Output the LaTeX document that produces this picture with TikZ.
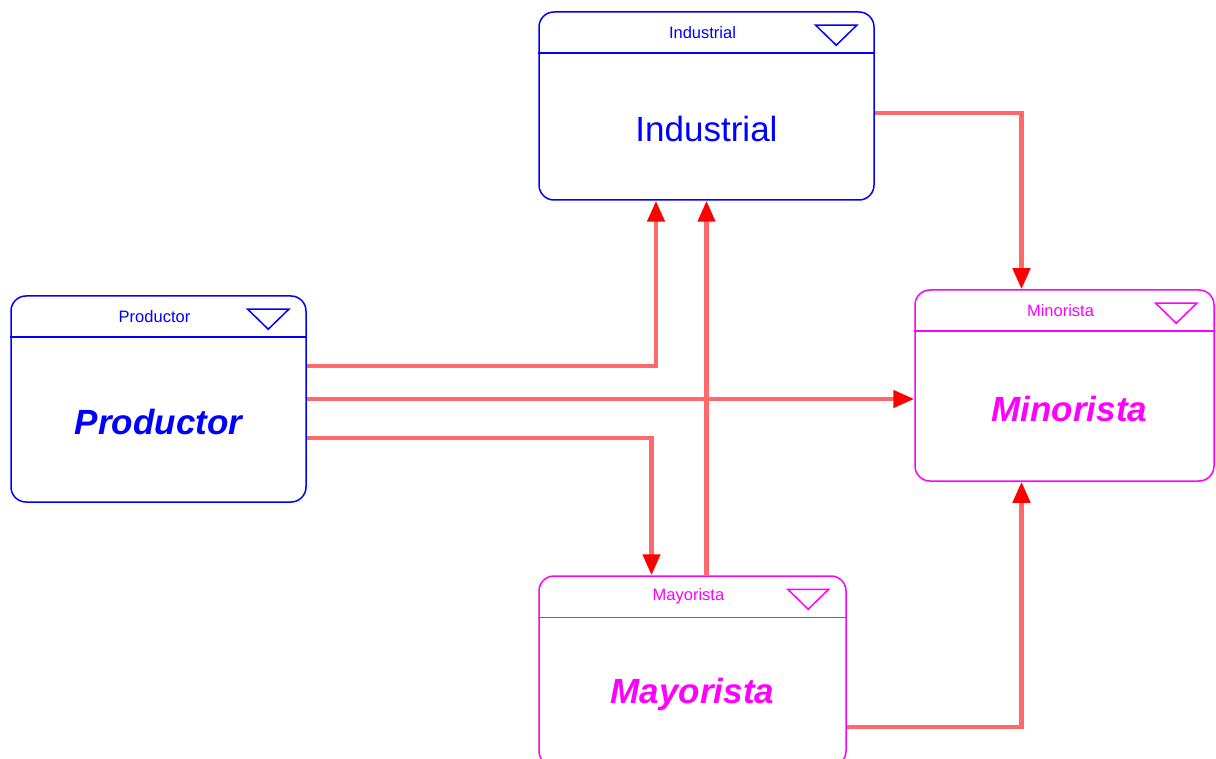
\documentclass[tikz,border=0pt]{standalone}
\usepackage{fontspec}
\setmainfont{Liberation Sans}
\usetikzlibrary{arrows.meta}

\definecolor{entblue}{RGB}{0,0,255}
\definecolor{entmag}{RGB}{255,0,255}
\definecolor{flowred}{RGB}{255,105,105}

\tikzset{
  entityframe/.style={draw=#1, line width=1.5pt, rounded corners=15pt, inner sep=0pt, fill=white},
  entityrule/.style={draw=#1, line width=1.5pt},
  entitytitle/.style={text=#1, font=\fontsize{16.5}{16.5}\selectfont, inner sep=0pt},
  entityname/.style={text=#1, font=\fontsize{35}{35}\selectfont, inner sep=0pt},
  flow/.style={draw=flowred, line width=4.5pt,
    -{Triangle[color=red, width=17pt, length=21pt]}}
}

% #1 name, #2 colour, #3 cx, #4 cy, #5 width, #6 height, #7 caption,
% #8 font switch for the large label, #9 large label
\newcommand\entitybox[9]{%
  \node[entityframe=#2, minimum width=#5pt, minimum height=#6pt] (#1) at (#3,#4) {};
  \draw[entityrule=#2] ([yshift=-42pt]#1.north west) -- ([yshift=-42pt]#1.north east);
  \draw[entityrule=#2, line join=miter] ([xshift=-59pt,yshift=-14pt]#1.north east)
     -- ([xshift=-18pt,yshift=-14pt]#1.north east)
     -- ([xshift=-38.5pt,yshift=-34pt]#1.north east) -- cycle;
  \node[entitytitle=#2] (#1-cap) at ([xshift=-4pt,yshift=-21pt]#1.north) {#7};
  \node[entityname=#2] (#1-name) at ([yshift=-23pt]#1.center) {#8#9};
}

\begin{document}
\begin{tikzpicture}[x=1pt, y=-1pt]
  \useasboundingbox (0,0) rectangle (1216,759);
  \clip (0,0) rectangle (1216,759);

  \entitybox{prod}{entblue}{158.5}{399}{295}{206}{Productor}{\bfseries\itshape}{Productor}
  \entitybox{ind}{entblue}{706.5}{106}{335}{188}{Industrial}{}{Industrial}
  \entitybox{min}{entmag}{1064.5}{385.5}{299}{191}{Minorista}{\hspace{10pt}\bfseries\itshape}{Minorista}
  \entitybox{may}{entmag}{692.5}{671}{307}{190}{Mayorista}{\bfseries\itshape}{Mayorista}

  % flows between the entities
  \draw[flow] ([yshift=33pt]prod.east) -| ([xshift=-50.5pt]ind.south);
  \draw[flow] (prod.east) -- (prod.east -| min.west);
  \draw[flow] ([yshift=-39pt]prod.east) -| ([xshift=-41pt]may.north);
  \draw[flow] (ind.south |- may.north) -- (ind.south);
  \draw[flow] ([yshift=-7pt]ind.east) -| ([xshift=-43pt]min.north);
  \draw[flow] ([yshift=-56pt]may.east) -| ([xshift=-43pt]min.south);
\end{tikzpicture}
\end{document}
